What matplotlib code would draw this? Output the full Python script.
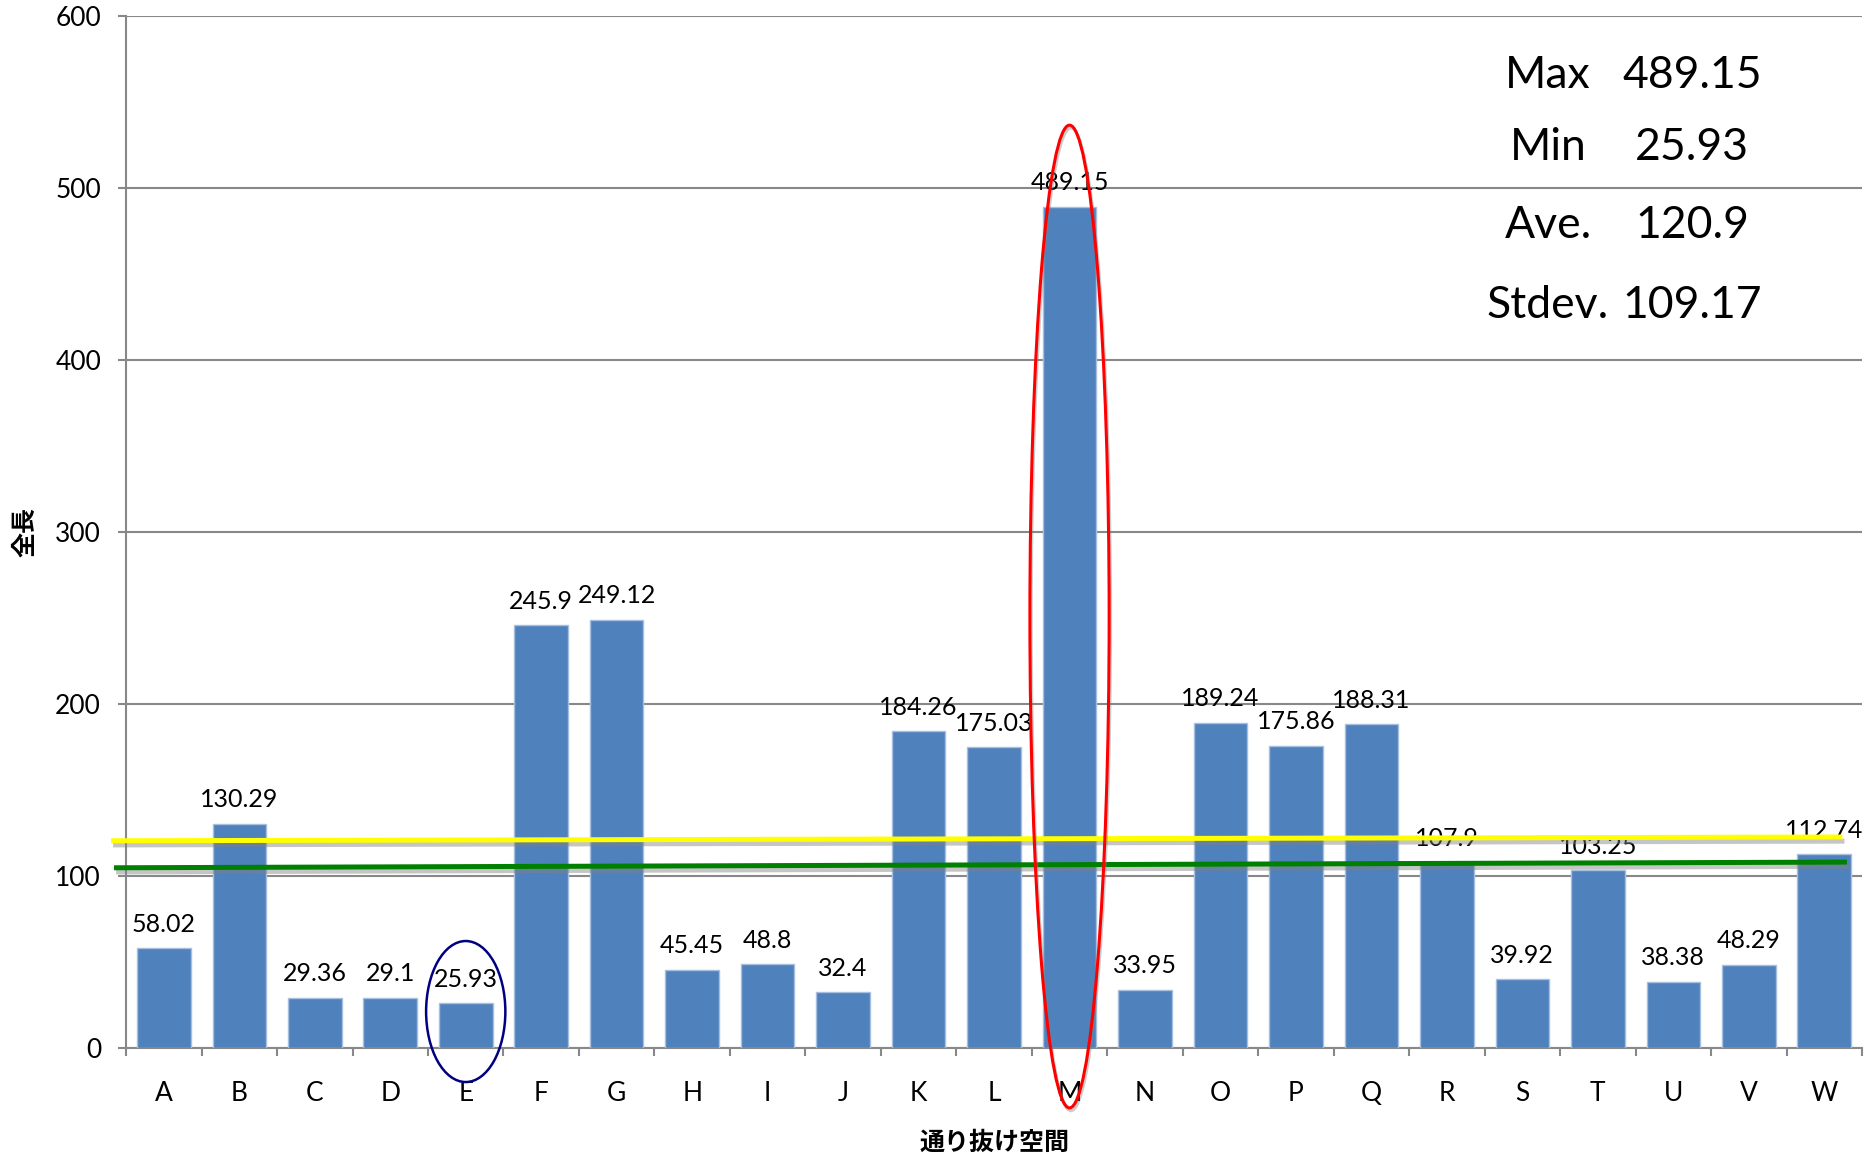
import matplotlib
matplotlib.use("Agg")
import matplotlib.pyplot as plt
import matplotlib.patheffects as pe
from matplotlib.patches import Ellipse

plt.rcParams['font.family'] = ['Lato', 'Noto Sans CJK JP', 'DejaVu Sans']

categories = list("ABCDEFGHIJKLMNOPQRSTUVW")
values = [58.02, 130.29, 29.36, 29.1, 25.93, 245.9, 249.12, 45.45, 48.8, 32.4,
          184.26, 175.03, 489.15, 33.95, 189.24, 175.86, 188.31, 107.9, 39.92,
          103.25, 38.38, 48.29, 112.74]
value_labels = ["58.02", "130.29", "29.36", "29.1", "25.93", "245.9", "249.12", "45.45",
                "48.8", "32.4", "184.26", "175.03", "489.15", "33.95", "189.24", "175.86",
                "188.31", "107.9", "39.92", "103.25", "38.38", "48.29", "112.74"]
yticks = [0, 100, 200, 300, 400, 500, 600]
stat_names = ["Max", "Min", "Ave.", "Stdev."]
stat_values = ["489.15", "25.93", "120.9", "109.17"]
# hand-drawn reference lines (x in category units, y in data units)
yellow_x = [-0.70, 22.24]
yellow_y = [120.5, 122.7]
green_x = [-0.66, 22.30]
green_y = [104.8, 108.1]

fig = plt.figure(figsize=(18.68, 11.58), dpi=100)
ax = fig.add_axes([0.0675, 0.095, 0.9293, 0.891])

x = list(range(len(categories)))
ax.bar(x, values, width=0.71, color='#4F81BD', edgecolor='#A7BFDE', linewidth=1, zorder=3)

for xi, v, lab in zip(x, values, value_labels):
    ax.annotate(lab, (xi, v), xytext=(0, 9), textcoords='offset points',
                ha='center', va='bottom', fontsize=18, color='black', zorder=4)

ax.set_xlim(-0.5, len(categories) - 0.5)
ax.set_ylim(0, 600)
ax.set_yticks(yticks)
ax.set_yticklabels([str(t) for t in yticks], fontsize=19)
ax.set_xticks(x)
ax.set_xticklabels(categories, fontsize=19)
ax.set_xticks([i - 0.5 for i in range(len(categories) + 1)], minor=True)
ax.tick_params(axis='x', which='major', length=0, pad=24)
ax.tick_params(axis='x', which='minor', length=6, width=1.5, color='#888888', direction='out')
ax.tick_params(axis='y', length=6, width=1.5, color='#888888', direction='out', pad=12)

ax.grid(axis='y', color='#888888', linewidth=1.5, zorder=0)
ax.set_axisbelow(True)
for s in ['top', 'right']:
    ax.spines[s].set_visible(False)
for s in ['left', 'bottom']:
    ax.spines[s].set_color('#888888')
    ax.spines[s].set_linewidth(1.5)

ax.set_xlabel("通り抜け空間", fontsize=18, fontweight='bold', va='center')
ax.xaxis.set_label_coords(0.5, -0.091)
ax.set_ylabel("全長", fontsize=18, fontweight='bold', va='center')
ax.yaxis.set_label_coords(-0.0585, 0.5)

shadow = [pe.SimpleLineShadow(offset=(1.5, -3), shadow_color='#808080', alpha=0.45), pe.Normal()]
ax.plot(yellow_x, yellow_y, color='#FFFF00', linewidth=3.6, zorder=6, clip_on=False,
        solid_capstyle='butt', path_effects=shadow)
ax.plot(green_x, green_y, color='#008000', linewidth=3.6, zorder=6, clip_on=False,
        solid_capstyle='butt', path_effects=shadow)

red_ell = Ellipse((12, 250.9), 1.05, 571.5, fill=False, edgecolor='#FF0000', linewidth=2.2,
                  zorder=7, clip_on=False,
                  path_effects=[pe.SimpleLineShadow(offset=(1, -2), shadow_color='#808080', alpha=0.4), pe.Normal()])
ax.add_patch(red_ell)
blue_ell = Ellipse((4, 21.2), 1.05, 82, fill=False, edgecolor='#000080', linewidth=1.8,
                   zorder=7, clip_on=False)
ax.add_patch(blue_ell)

ys = [75, 148, 226, 305]
for name, val, yp in zip(stat_names, stat_values, ys):
    fig.text(1548 / 1868, 1 - yp / 1158, name, ha='center', va='center', fontsize=32)
    fig.text(1692 / 1868, 1 - yp / 1158, val, ha='center', va='center', fontsize=32)

fig.savefig("out.png", dpi=100)
